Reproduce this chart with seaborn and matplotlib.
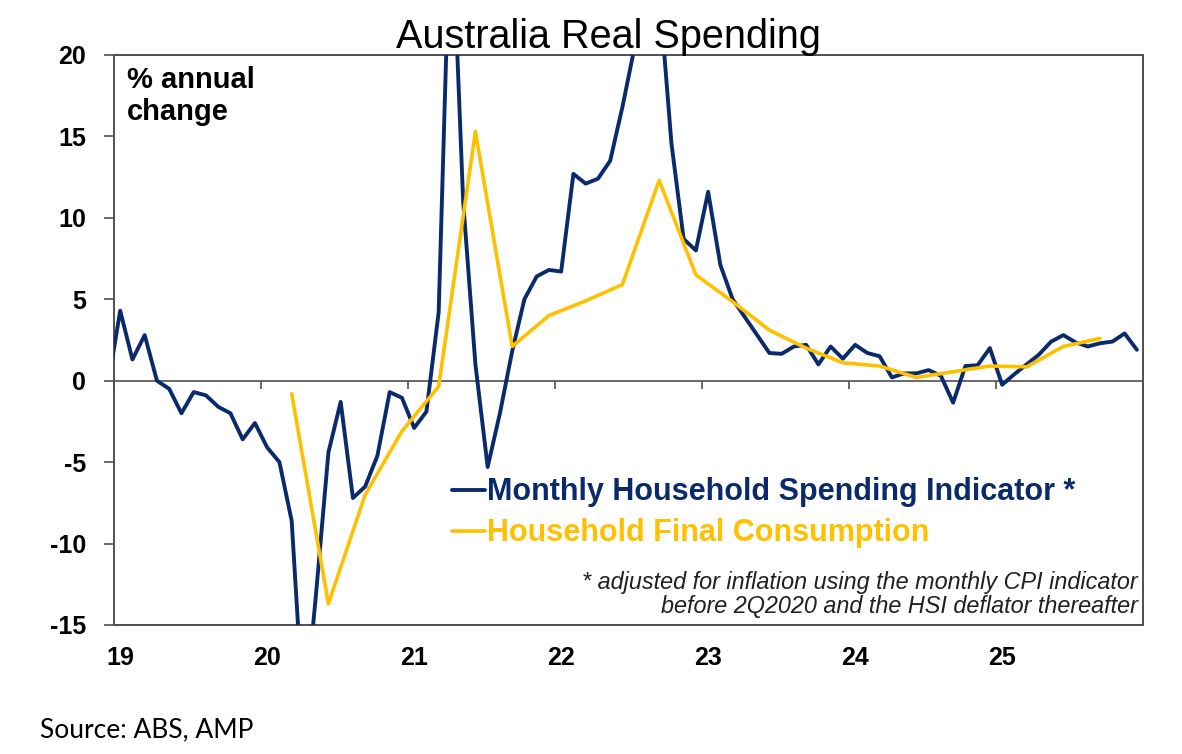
import pandas as pd
import matplotlib
matplotlib.use("Agg")
import matplotlib.pyplot as plt
import seaborn as sns

# Monthly household spending indicator, real, % y/y (Dec 2018 .. Dec 2025)
hsi_start = "2018-12-01"
hsi_values = [
    -0.3,                                                                     # Dec 2018
    4.3, 1.3, 2.8, 0.0, -0.5, -2.0, -0.7, -0.9, -1.6, -2.0, -3.6, -2.6,       # 2019
    -4.1, -5.0, -8.6, -21.0, -13.0, -4.4, -1.3, -7.2, -6.5, -4.6, -0.7, -1.05,  # 2020
    -2.9, -1.9, 4.2, 30.0, 11.0, 1.0, -5.3, -2.0, 1.8, 5.0, 6.4, 6.8,         # 2021
    6.7, 12.7, 12.1, 12.4, 13.5, 16.8, 20.5, 26.0, 24.0, 14.6, 8.7, 8.0,      # 2022
    11.6, 7.1, 5.0, 3.9, 2.8, 1.7, 1.65, 2.1, 2.2, 1.0, 2.1, 1.35,            # 2023
    2.2, 1.7, 1.5, 0.2, 0.45, 0.45, 0.65, 0.3, -1.35, 0.9, 0.95, 2.0,         # 2024
    -0.25, 0.4, 1.0, 1.6, 2.4, 2.8, 2.35, 2.1, 2.3, 2.4, 2.9, 1.9,            # 2025
]

# Household final consumption, real, % y/y (quarterly, Mar 2020 .. Sep 2025)
hfc_start = "2020-03-01"
hfc_values = [
    -0.8, -13.7, -7.0, -3.1,
    -0.35, 15.3, 2.1, 4.0,
    4.9, 5.9, 12.3, 6.5,
    4.85, 3.1, 2.0, 1.1,
    0.9, 0.2, 0.55, 0.9,
    0.85, 2.1, 2.6,
]

years = [2019, 2020, 2021, 2022, 2023, 2024, 2025, 2026]
year_labels = ["19", "20", "21", "22", "23", "24", "25"]
y_ticks = [-15, -10, -5, 0, 5, 10, 15, 20]
y_tick_labels = ["-15", "-10", "-5", "0", "5", "10", "15", "20"]

NAVY = "#0a2a6b"
GOLD = "#ffc000"
GREY = "#505050"


def decimal_year(dates):
    # points sit in the middle of their month
    return dates.year + (dates.month - 0.5) / 12


hsi_dates = pd.date_range(hsi_start, periods=len(hsi_values), freq="MS")
hfc_dates = pd.date_range(hfc_start, periods=len(hfc_values), freq="3MS")
df_hsi = pd.DataFrame({"x": decimal_year(hsi_dates), "value": hsi_values})
df_hfc = pd.DataFrame({"x": decimal_year(hfc_dates), "value": hfc_values})

sns.set_style("white")
plt.rcParams["font.family"] = ["Liberation Sans", "DejaVu Sans"]
plt.rcParams["text.color"] = "black"

fig = plt.figure(figsize=(11.82, 7.54), dpi=100)
ax = fig.add_axes([0.0965, 0.1711, 0.8705, 0.7560])

sns.lineplot(data=df_hsi, x="x", y="value", ax=ax, color=NAVY, lw=2.8,
             label="Monthly Household Spending Indicator *", zorder=3)
sns.lineplot(data=df_hfc, x="x", y="value", ax=ax, color=GOLD, lw=2.6,
             label="Household Final Consumption", zorder=4)

ax.set_xlim(2019, 2026)
ax.set_ylim(-15, 20)
ax.axhline(0, color=GREY, lw=1.2, zorder=2)

# x labels sit at the bottom, tick marks on the zero line
ax.set_xticks([y + 1 / 24 for y in years[:-1]])
ax.set_xticklabels(year_labels, fontsize=18, fontweight="bold")
ax.tick_params(axis="x", length=0, pad=15, labelcolor="black")
sec = ax.secondary_xaxis(15 / 35)
sec.set_xticks(years)
sec.tick_params(axis="x", length=6, width=1.2, color=GREY, direction="out",
                labelbottom=False, labeltop=False)
for s in sec.spines.values():
    s.set_visible(False)

ax.set_yticks(y_ticks)
ax.set_yticklabels(y_tick_labels, fontsize=18, fontweight="bold")
ax.tick_params(axis="y", length=7, width=1.2, color=GREY, direction="out",
               pad=13, left=True, labelcolor="black")
ax.set_xlabel("")
ax.set_ylabel("")
for s in ax.spines.values():
    s.set_color(GREY)
    s.set_linewidth(1.4)

ax.text(0.0126, 0.9425, "% annual", transform=ax.transAxes, fontsize=21,
        fontweight="bold", va="baseline", ha="left")
ax.text(0.0126, 0.8865, "change", transform=ax.transAxes, fontsize=21,
        fontweight="bold", va="baseline", ha="left")

leg = ax.legend(loc="upper left", bbox_to_anchor=(0.3285, 0.259), frameon=False,
                prop={"size": 22, "weight": "bold"}, handlelength=1.08,
                handletextpad=0.05, labelspacing=0.36, borderpad=0,
                borderaxespad=0, labelcolor="linecolor")

ax.text(0.9951, 0.0632, "* adjusted for inflation using the monthly CPI indicator",
        transform=ax.transAxes, fontsize=16.8, style="italic", ha="right",
        va="baseline", color="#202020")
ax.text(0.9951, 0.0210, "before 2Q2020 and the HSI deflator thereafter",
        transform=ax.transAxes, fontsize=16.8, style="italic", ha="right",
        va="baseline", color="#202020")

fig.text(608 / 1182, 1 - 48 / 754, "Australia Real Spending", fontsize=28.5,
         ha="center", va="baseline", color="black")
fig.text(40 / 1182, 1 - 737 / 754, "Source: ABS, AMP", fontsize=19,
         family=["Lato", "DejaVu Sans"], ha="left", va="baseline", color="black")

fig.savefig("out.png", dpi=100, facecolor="white")
